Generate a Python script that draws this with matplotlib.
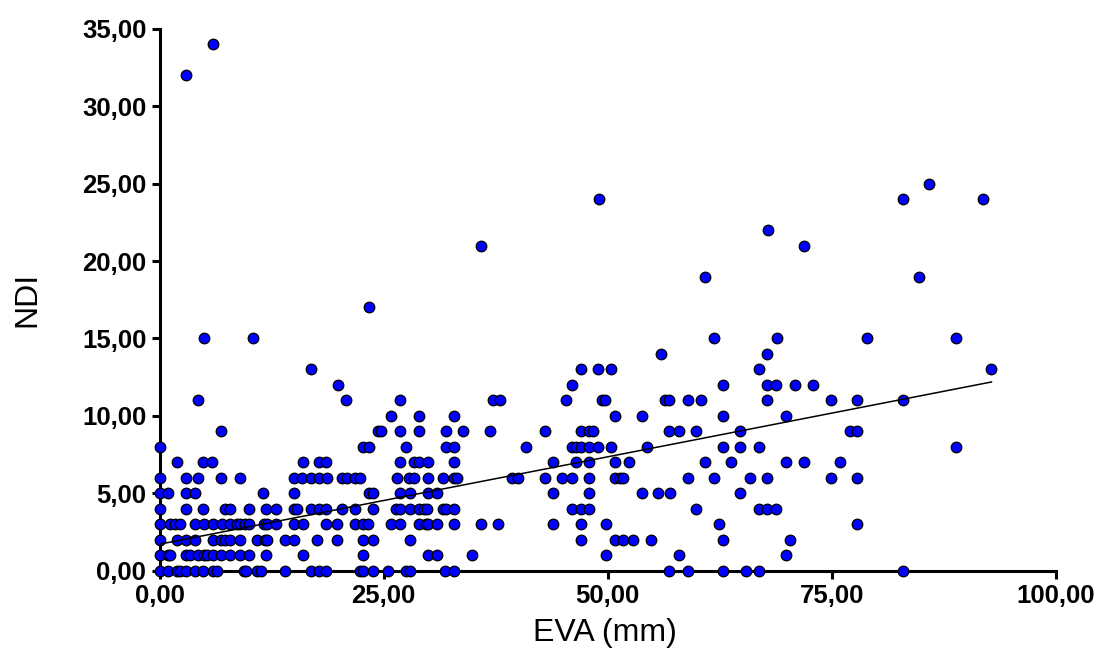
import numpy as np
import matplotlib.pyplot as plt
from matplotlib.ticker import FuncFormatter

plt.rcParams['font.family'] = ['Liberation Sans', 'DejaVu Sans']

# EVA (mm) values for each NDI score
eva_ndi0 = [0, 0.9, 2.0, 2.3, 3.0, 4.0, 4.9, 6.0, 6.4, 9.4, 9.7, 10.9, 11.3, 14.0, 16.9, 17.8, 18.6,
            22.4, 22.7, 23.8, 25.5, 27.5, 27.9, 31.8, 32.9, 56.8, 58.9, 62.9, 65.4, 66.9, 82.9]
eva_ndi1 = [0, 0.9, 1.2, 3.0, 3.4, 4.3, 5.0, 5.3, 6.0, 6.9, 7.9, 9.0, 10.0, 11.9, 16.0,
            22.7, 29.9, 30.9, 34.9, 49.8, 57.9, 69.9]
eva_ndi2 = [0, 1.9, 3.0, 4.0, 6.0, 6.8, 7.3, 7.9, 9.0, 10.9, 11.8, 12.0, 14.0, 15.0, 17.6,
            19.8, 22.7, 23.8, 27.9, 47.0, 50.8, 51.7, 52.8, 54.8, 62.9, 70.3]
eva_ndi3 = [0, 1.2, 1.7, 2.3, 4.0, 5.0, 6.0, 7.0, 7.9, 8.6, 9.0, 9.5, 10.0, 11.6, 12.0, 13.0, 15.0, 16.0, 18.6,
            19.8, 21.8, 22.7, 23.3, 25.8, 26.8, 28.9, 29.7, 30.0, 30.9, 32.9, 35.9, 37.8,
            43.9, 47.0, 49.8, 62.4, 77.8]
eva_ndi4 = [0, 3.0, 4.9, 7.3, 7.9, 10.0, 11.9, 13.0, 15.0, 15.3, 16.9, 17.8, 18.6,
            20.4, 21.8, 23.8, 26.4, 26.8, 27.9, 28.9, 29.5, 29.8, 31.6, 32.0, 32.9,
            46.0, 47.0, 47.9, 59.8, 66.9, 67.8, 68.8]
eva_ndi5 = [0, 0.9, 3.0, 4.0, 11.5, 15.0, 23.4, 23.8, 26.8, 27.9, 29.9, 30.9,
            43.9, 47.9, 53.8, 55.6, 56.9, 64.8]
eva_ndi6 = [0, 3.0, 4.3, 6.9, 9.0, 15.0, 15.9, 16.9, 17.8, 18.7,
            20.4, 20.9, 21.8, 22.4, 26.5, 27.8, 28.4, 29.9, 31.6, 32.8, 33.2,
            39.3, 40.0, 43.0, 44.9, 46.0, 47.9, 50.8, 51.4, 51.7,
            58.9, 61.8, 65.9, 67.8, 74.9, 77.8]
eva_ndi7 = [2.0, 4.9, 5.9, 16.0, 17.8, 18.6, 26.8, 28.4, 28.9, 29.9, 32.9,
            43.9, 46.5, 47.9, 50.8, 52.4, 60.8, 63.8, 69.9, 71.9, 75.9]
eva_ndi8 = [0, 22.7, 23.4, 27.5, 31.9, 32.9, 40.9, 46.0, 46.5, 47.0, 47.9, 48.9, 50.4, 54.4,
            62.9, 64.8, 66.9, 88.8]
eva_ndi9 = [6.9, 24.4, 24.7, 26.8, 28.9, 31.9, 33.9, 36.9, 43.0, 47.0, 47.9, 48.4, 56.8,
            57.9, 59.8, 64.8, 77.0, 77.8]
eva_ndi10 = [25.8, 28.9, 32.9, 50.8, 53.8, 62.9, 69.9]
eva_ndi11 = [4.3, 20.8, 26.8, 37.2, 38.0, 45.3, 49.3, 49.7, 56.4, 56.8,
             58.9, 60.4, 67.8, 74.9, 77.8, 82.9]
eva_ndi12 = [19.9, 46.0, 62.9, 67.8, 68.8, 70.9, 72.9]
eva_ndi13 = [16.9, 47.0, 48.9, 50.4, 66.9, 92.8]
eva_ndi14 = [55.9, 67.8]
eva_ndi15 = [5.0, 10.4, 61.8, 68.9, 78.9, 88.8]
eva_ndi17 = [23.4]
eva_ndi19 = [60.8, 84.7]
eva_ndi21 = [35.9, 71.9]
eva_ndi22 = [67.9]
eva_ndi24 = [49.0, 82.9, 91.8]
eva_ndi25 = [85.8]
eva_ndi32 = [3.0]
eva_ndi34 = [6.0]

# regression line as printed in the chart (many points overlap, so a refit drifts)
fit_intercept = 1.7
fit_slope = 0.113

groups = {0: eva_ndi0, 1: eva_ndi1, 2: eva_ndi2, 3: eva_ndi3, 4: eva_ndi4, 5: eva_ndi5,
          6: eva_ndi6, 7: eva_ndi7, 8: eva_ndi8, 9: eva_ndi9, 10: eva_ndi10, 11: eva_ndi11,
          12: eva_ndi12, 13: eva_ndi13, 14: eva_ndi14, 15: eva_ndi15, 17: eva_ndi17,
          19: eva_ndi19, 21: eva_ndi21, 22: eva_ndi22, 24: eva_ndi24, 25: eva_ndi25,
          32: eva_ndi32, 34: eva_ndi34}

eva = np.concatenate([np.array(v, dtype=float) for v in groups.values()])
ndi = np.concatenate([np.full(len(v), k, dtype=float) for k, v in groups.items()])

fig = plt.figure(figsize=(10.95, 6.53), dpi=100)
ax = fig.add_axes([0.1457, 0.1263, 0.8187, 0.8293])

ax.scatter(eva, ndi, s=58, c='#0000ff', edgecolors='black', linewidths=0.9,
           clip_on=False, zorder=3)

xs = np.array([eva.min(), eva.max()])
ax.plot(xs, fit_intercept + fit_slope * xs, color='black', linewidth=1.1, zorder=4)

ax.set_xlim(0, 100)
ax.set_ylim(0, 35)
ax.set_xticks([0, 25, 50, 75, 100])
ax.set_yticks(np.arange(0, 36, 5))
fmt = FuncFormatter(lambda v, p: f'{v:.2f}'.replace('.', ','))
ax.xaxis.set_major_formatter(fmt)
ax.yaxis.set_major_formatter(fmt)

for side in ['top', 'right']:
    ax.spines[side].set_visible(False)
for side in ['left', 'bottom']:
    ax.spines[side].set_linewidth(2.2)

ax.tick_params(direction='out', length=5.5, width=2.2, labelsize=18.5, pad=4)
for lab in ax.get_xticklabels() + ax.get_yticklabels():
    lab.set_fontweight('bold')

ax.set_xlabel('EVA (mm)', fontsize=23)
ax.set_ylabel('NDI', fontsize=23)
ax.xaxis.set_label_coords(0.497, -0.088)
ax.yaxis.set_label_coords(-0.131, 0.5)

fig.savefig('out.png', dpi=100)
